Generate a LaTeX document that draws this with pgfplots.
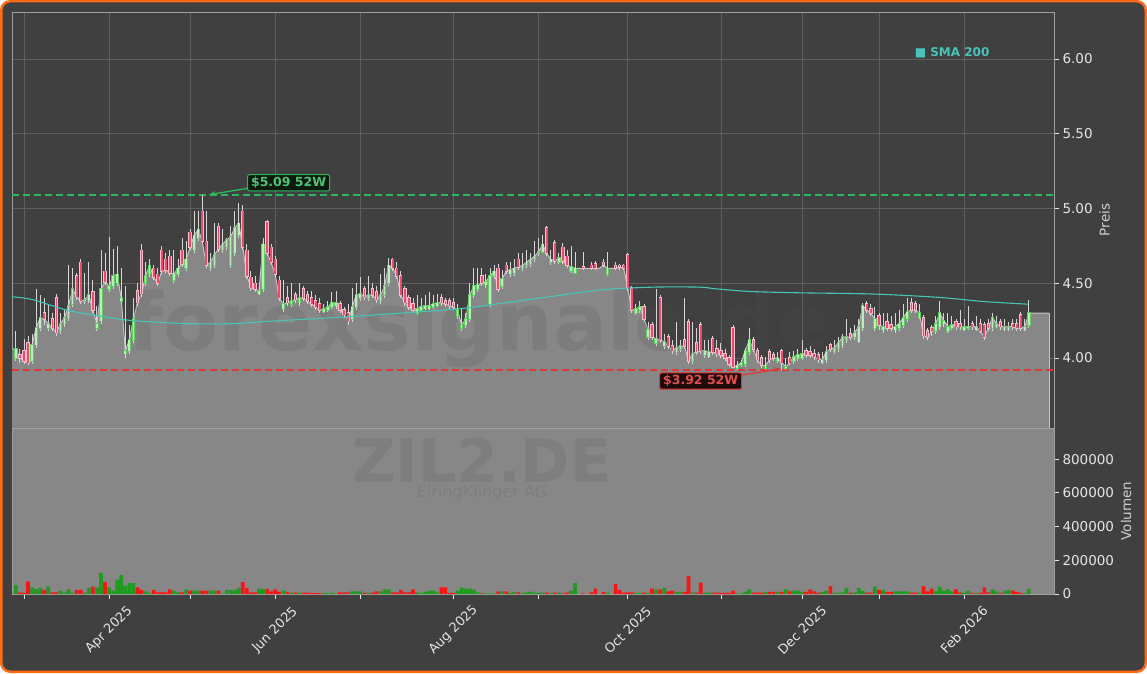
\documentclass[border=0pt]{standalone}
\usepackage{fontspec}
\setmainfont{DejaVu Sans}
\usepackage{pgfplots}
\pgfplotsset{compat=1.18}
\usepackage{pgfplotstable}
\usetikzlibrary{arrows.meta}

\definecolor{bg}{HTML}{404040}
\definecolor{frame}{HTML}{A0A0A0}
\definecolor{gridc}{HTML}{5E5E5E}
\definecolor{areac}{HTML}{878787}
\definecolor{arealine}{HTML}{C4C4C4}
\definecolor{tickt}{HTML}{E6E6E6}
\definecolor{labt}{HTML}{CFCFCF}
\definecolor{smac}{RGB}{72,196,186}
\definecolor{hi}{RGB}{46,184,92}
\definecolor{lo}{RGB}{222,58,58}
\definecolor{upedge}{RGB}{95,205,95}
\definecolor{upfill}{RGB}{185,238,185}
\definecolor{dnedge}{RGB}{250,190,205}
\definecolor{dnfill}{RGB}{235,75,110}
\definecolor{wick}{HTML}{D6D6D6}
\definecolor{volg}{RGB}{32,155,32}
\definecolor{volr}{RGB}{250,20,20}
\definecolor{wm}{RGB}{77,77,77}
\definecolor{border}{HTML}{FF6A14}

\newcommand{\tickfont}{\fontsize{13.5}{16}\selectfont}

% i = trading day (0 = 3 Mar 2025), o h l c, v = volume (0 = no trade)
\pgfplotstableread{
i o h l c v
-3 4.06 4.06 4.06 4.06 0
-2 4.00 4.18 3.98 4.06 53000
-1 4.02 4.06 3.97 4.00 8000
0 4.05 4.13 3.96 3.98 6000
1 4.10 4.15 3.95 3.97 75000
2 3.98 4.16 3.96 4.09 40000
3 4.09 4.46 4.07 4.20 30000
4 4.20 4.42 4.18 4.27 36000
5 4.30 4.40 4.22 4.26 24000
6 4.20 4.36 4.18 4.23 46000
7 4.26 4.30 4.18 4.20 10000
8 4.40 4.43 4.15 4.17 10000
9 4.18 4.30 4.16 4.23 20000
10 4.23 4.32 4.21 4.27 8000
11 4.27 4.62 4.25 4.35 28000
12 4.36 4.60 4.34 4.46 8000
13 4.55 4.57 4.39 4.41 24000
14 4.64 4.66 4.36 4.38 24000
15 4.38 4.57 4.36 4.39 8000
16 4.39 4.64 4.37 4.42 36000
17 4.44 4.52 4.30 4.32 44000
18 4.20 4.35 4.18 4.23 40000
19 4.25 4.72 4.23 4.46 126000
20 4.58 4.70 4.49 4.51 71000
21 4.46 4.81 4.44 4.48 40000
22 4.48 4.73 4.46 4.55 20000
23 4.50 4.75 4.48 4.56 85000
24 4.38 4.60 4.36 4.40 113000
25 4.03 4.48 4.00 4.05 50000
26 4.05 4.22 4.03 4.12 65000
27 4.12 4.40 4.10 4.26 65000
28 4.45 4.50 4.35 4.37 40000
29 4.72 4.76 4.41 4.43 24000
30 4.50 4.64 4.48 4.55 16000
31 4.56 4.66 4.54 4.62 6000
32 4.60 4.62 4.52 4.54 24000
33 4.56 4.60 4.48 4.50 10000
34 4.72 4.75 4.56 4.58 10000
35 4.66 4.70 4.57 4.59 10000
36 4.68 4.72 4.55 4.57 28000
37 4.52 4.72 4.50 4.56 20000
38 4.56 4.66 4.54 4.60 10000
39 4.72 4.80 4.61 4.63 10000
40 4.60 4.78 4.58 4.66 28000
41 4.84 4.86 4.72 4.74 20000
42 4.72 4.98 4.70 4.82 20000
43 4.80 4.98 4.78 4.86 20000
44 4.98 5.09 4.76 4.78 20000
45 4.78 4.98 4.60 4.62 20000
46 4.60 4.70 4.58 4.64 20000
47 4.62 4.90 4.60 4.69 20000
48 4.88 4.90 4.71 4.73 20000
49 4.72 4.86 4.70 4.76 4000
50 4.74 4.80 4.72 4.79 24000
51 4.62 4.88 4.60 4.81 24000
52 4.70 4.98 4.68 4.87 24000
53 4.82 5.04 4.80 4.90 36000
54 4.98 5.02 4.72 4.74 71000
55 4.72 4.76 4.53 4.55 36000
56 4.54 4.58 4.45 4.47 10000
57 4.50 4.55 4.44 4.46 10000
58 4.43 4.50 4.42 4.45 30000
59 4.46 4.80 4.44 4.76 30000
60 4.91 4.92 4.68 4.70 30000
61 4.74 4.76 4.62 4.64 16000
62 4.66 4.68 4.54 4.56 28000
63 4.52 4.55 4.38 4.40 12000
64 4.33 4.52 4.31 4.36 20000
65 4.40 4.48 4.35 4.37 12000
66 4.36 4.50 4.34 4.38 8000
67 4.42 4.44 4.37 4.39 8000
68 4.37 4.50 4.35 4.40 8000
69 4.46 4.48 4.38 4.40 8000
70 4.42 4.45 4.36 4.38 8000
71 4.40 4.45 4.34 4.36 5000
72 4.38 4.42 4.32 4.34 5000
73 4.36 4.40 4.30 4.32 5000
74 4.31 4.36 4.30 4.33 5000
75 4.32 4.38 4.31 4.34 5000
76 4.34 4.44 4.33 4.37 5000
77 4.35 4.45 4.33 4.37 3000
78 4.36 4.38 4.30 4.32 10000
79 4.32 4.34 4.27 4.29 10000
80 4.30 4.36 4.22 4.25 10000
81 4.26 4.47 4.24 4.34 16000
82 4.34 4.50 4.32 4.42 16000
83 4.40 4.54 4.38 4.43 16000
84 4.46 4.48 4.39 4.41 8000
85 4.40 4.55 4.38 4.42 8000
86 4.46 4.50 4.40 4.42 8000
87 4.44 4.48 4.37 4.39 16000
88 4.38 4.56 4.36 4.42 16000
89 4.42 4.60 4.40 4.48 28000
90 4.50 4.67 4.48 4.62 28000
91 4.66 4.67 4.58 4.60 10000
92 4.60 4.64 4.53 4.55 10000
93 4.55 4.58 4.40 4.42 24000
94 4.46 4.48 4.35 4.37 10000
95 4.40 4.42 4.32 4.34 10000
96 4.36 4.40 4.30 4.32 28000
97 4.30 4.42 4.29 4.33 10000
98 4.32 4.40 4.31 4.34 6000
99 4.33 4.42 4.32 4.35 14000
100 4.33 4.44 4.32 4.35 20000
101 4.34 4.42 4.33 4.36 20000
102 4.35 4.43 4.34 4.37 10000
103 4.40 4.43 4.35 4.37 40000
104 4.38 4.40 4.34 4.36 40000
105 4.38 4.40 4.33 4.35 6000
106 4.37 4.40 4.32 4.34 6000
107 4.28 4.36 4.26 4.32 20000
108 4.20 4.33 4.18 4.22 38000
109 4.22 4.30 4.20 4.26 32000
110 4.26 4.50 4.24 4.42 32000
111 4.42 4.60 4.40 4.48 26000
112 4.46 4.60 4.44 4.49 10000
113 4.55 4.60 4.48 4.50 4000
114 4.49 4.56 4.47 4.51 4000
115 4.36 4.60 4.34 4.55 4000
116 4.55 4.62 4.53 4.58 4000
117 4.60 4.63 4.44 4.46 16000
118 4.48 4.59 4.46 4.53 16000
119 4.62 4.64 4.56 4.58 16000
120 4.56 4.64 4.54 4.59 6000
121 4.57 4.66 4.55 4.60 12000
122 4.66 4.70 4.59 4.61 10000
123 4.60 4.70 4.58 4.62 6000
124 4.62 4.72 4.60 4.64 10000
125 4.63 4.70 4.61 4.66 14000
126 4.66 4.78 4.64 4.68 8000
127 4.70 4.80 4.68 4.71 8000
128 4.71 4.82 4.70 4.76 8000
129 4.87 4.88 4.68 4.70 8000
130 4.64 4.72 4.62 4.66 6000
131 4.77 4.79 4.63 4.65 8000
132 4.64 4.70 4.63 4.67 8000
133 4.74 4.77 4.63 4.65 4000
134 4.68 4.72 4.60 4.62 8000
135 4.58 4.75 4.57 4.61 20000
136 4.57 4.71 4.56 4.60 64000
137 4.60 4.60 4.60 4.60 0
138 4.61 4.71 4.59 4.60 4000
139 4.60 4.60 4.60 4.60 0
140 4.62 4.64 4.59 4.60 10000
141 4.63 4.65 4.59 4.60 32000
142 4.60 4.60 4.60 4.60 0
143 4.64 4.66 4.61 4.62 12000
144 4.56 4.71 4.55 4.60 8000
145 4.60 4.60 4.60 4.60 0
146 4.62 4.64 4.59 4.60 59000
147 4.62 4.63 4.59 4.61 24000
148 4.62 4.63 4.59 4.60 8000
149 4.69 4.70 4.45 4.47 10000
150 4.47 4.48 4.30 4.32 10000
151 4.30 4.36 4.29 4.33 6000
152 4.32 4.38 4.30 4.34 6000
153 4.34 4.36 4.24 4.26 8000
154 4.14 4.24 4.12 4.19 6000
155 4.22 4.24 4.12 4.14 32000
156 4.10 4.46 4.08 4.13 28000
157 4.40 4.42 4.10 4.12 28000
158 4.08 4.16 4.06 4.11 38000
159 4.14 4.16 4.06 4.08 16000
160 4.08 4.12 4.03 4.05 20000
161 4.04 4.24 4.02 4.07 12000
162 4.06 4.12 4.04 4.08 12000
163 4.12 4.40 4.06 4.08 12000
164 4.24 4.26 3.96 3.98 107000
165 3.98 4.24 3.96 4.03 10000
166 4.10 4.20 4.02 4.04 8000
167 4.22 4.24 4.03 4.05 67000
168 4.02 4.12 4.00 4.05 8000
169 4.01 4.12 4.00 4.04 8000
170 4.13 4.15 4.02 4.04 8000
171 4.06 4.12 4.01 4.03 8000
172 4.05 4.10 4.00 4.02 6000
173 4.03 4.06 3.98 4.00 6000
174 4.00 4.02 3.94 3.96 6000
175 4.20 4.22 3.93 3.94 20000
176 3.93 3.98 3.92 3.95 4000
177 3.95 3.99 3.94 3.97 4000
178 3.96 4.07 3.94 4.05 14000
179 4.04 4.20 4.02 4.12 28000
180 4.12 4.14 4.04 4.06 8000
181 4.05 4.07 3.97 3.99 8000
182 4.00 4.02 3.93 3.95 8000
183 3.93 4.01 3.92 3.95 12000
184 4.04 4.06 3.97 3.99 12000
185 4.02 4.04 3.98 4.00 12000
186 3.98 4.04 3.97 4.00 12000
187 4.05 4.06 3.92 3.97 12000
188 3.93 4.00 3.92 3.94 28000
189 4.00 4.04 3.95 3.97 16000
190 3.98 4.05 3.96 4.01 20000
191 4.00 4.06 3.98 4.02 20000
192 4.00 4.12 3.99 4.03 12000
193 4.05 4.07 4.00 4.02 12000
194 4.04 4.08 4.00 4.02 28000
195 4.03 4.06 3.99 4.01 16000
196 4.02 4.04 3.97 3.99 8000
197 3.97 4.04 3.96 3.99 12000
198 3.99 4.08 3.97 4.04 20000
199 4.09 4.10 4.04 4.06 47000
200 4.04 4.12 4.03 4.07 8000
201 4.06 4.14 4.04 4.10 8000
202 4.09 4.16 4.07 4.14 8000
203 4.12 4.26 4.10 4.14 36000
204 4.16 4.20 4.12 4.14 8000
205 4.14 4.22 4.12 4.17 10000
206 4.11 4.26 4.10 4.21 36000
207 4.20 4.37 4.18 4.35 20000
208 4.36 4.38 4.30 4.32 8000
209 4.33 4.36 4.28 4.30 8000
210 4.20 4.34 4.18 4.26 44000
211 4.28 4.30 4.19 4.22 24000
212 4.19 4.30 4.17 4.21 24000
213 4.24 4.30 4.18 4.20 12000
214 4.22 4.28 4.18 4.20 12000
215 4.19 4.30 4.17 4.21 16000
216 4.20 4.32 4.18 4.23 16000
217 4.22 4.36 4.20 4.27 16000
218 4.26 4.40 4.24 4.31 16000
219 4.37 4.40 4.30 4.32 8000
220 4.36 4.38 4.30 4.32 8000
221 4.27 4.36 4.26 4.30 8000
222 4.27 4.29 4.13 4.15 47000
223 4.18 4.20 4.12 4.14 16000
224 4.20 4.22 4.15 4.18 32000
225 4.18 4.28 4.16 4.23 16000
226 4.21 4.38 4.19 4.30 44000
227 4.23 4.30 4.21 4.25 20000
228 4.18 4.30 4.17 4.21 28000
229 4.20 4.28 4.19 4.22 16000
230 4.24 4.26 4.19 4.21 28000
231 4.23 4.32 4.19 4.21 8000
232 4.19 4.26 4.18 4.21 8000
233 4.20 4.35 4.19 4.21 20000
234 4.23 4.25 4.19 4.21 6000
235 4.19 4.28 4.18 4.21 6000
236 4.23 4.26 4.17 4.18 6000
237 4.22 4.24 4.12 4.14 40000
238 4.23 4.26 4.18 4.20 10000
239 4.20 4.30 4.18 4.27 28000
240 4.21 4.28 4.20 4.23 16000
241 4.24 4.26 4.19 4.21 6000
242 4.19 4.26 4.18 4.21 20000
243 4.19 4.24 4.18 4.21 24000
244 4.23 4.26 4.19 4.21 20000
245 4.23 4.26 4.18 4.20 12000
246 4.29 4.31 4.18 4.20 6000
247 4.19 4.26 4.18 4.21 6000
248 4.22 4.39 4.20 4.30 32000
249 4.30 4.30 4.30 4.30 0
250 4.30 4.30 4.30 4.30 0
251 4.30 4.30 4.30 4.30 0
252 4.30 4.30 4.30 4.30 0
253 4.30 4.30 4.30 4.30 0
}\price

\pgfplotsset{
  chart/.style={
    scale only axis, width=1042pt, anchor=south west,
    xmin=-2.96, xmax=254.2,
    axis line style={draw=frame, line width=0.9pt},
    xtick={21,62,106,149,192,232},
    minor xtick={0,41,83,127,172,211},
    tick align=outside, major tick length=5pt, minor tick length=5pt,
    tick style={draw=tickt, line width=0.8pt},
    ytick pos=right, yticklabel pos=right,
    tick label style={font=\tickfont, text=tickt},
    ylabel style={font=\tickfont, text=labt},
  },
  up/.style={restrict expr to domain={(\thisrow{v}>0)*((\thisrow{c}-\thisrow{o})>-0.0001)}{0.5:1.5}},
  down/.style={restrict expr to domain={(\thisrow{v}>0)*((\thisrow{o}-\thisrow{c})>0.0001)}{0.5:1.5}},
  candle/.style={draw=none, mark=none, forget plot},
}

\begin{document}
\begin{tikzpicture}
\useasboundingbox (0,0) rectangle (1147pt,673pt);
\draw[border, line width=2.5pt, fill=bg, rounded corners=9pt] (1.25pt,1.25pt) rectangle (1145.75pt,671.75pt);

% price panel
\begin{axis}[chart, at={(12pt,245pt)}, height=416pt,
  ymin=3.532, ymax=6.314, ytick={4,4.5,5,5.5,6},
  xticklabels={}, xtick style={draw=none}, minor x tick style={draw=none},
  grid=both, grid style={draw=gridc, line width=0.7pt}, minor grid style={draw=gridc, line width=0.7pt},
  yticklabel style={/pgf/number format/.cd, fixed, fixed zerofill, precision=2, assume math mode=true},
  ylabel={Preis}]
\addplot[fill=areac, draw=none, forget plot] table[x=i, y=c] {\price} \closedcycle;
\addplot[arealine, line width=1pt, mark=none, forget plot] table[x=i, y=c] {\price};
\addplot[arealine, line width=1pt, mark=none, forget plot] coordinates {(253,4.30) (253,3.4)};
\node[anchor=base, text=wm, text opacity=0.17, font=\bfseries\fontsize{80}{80}\selectfont]
  at (rel axis cs:0.449,0.1875) {forexsignale.de};
\addplot[hi, line width=1.3pt, mark=none, dash pattern=on 7pt off 4pt, forget plot] coordinates {(-3,5.09) (255,5.09)};
\addplot[lo, line width=1.3pt, mark=none, dash pattern=on 7pt off 4pt, forget plot] coordinates {(-3,3.92) (255,3.92)};
% wicks
\addplot[candle, restrict expr to domain={\thisrow{v}}{1:1e9},
  error bars/.cd, y dir=plus, y explicit, error mark=none,
  error bar style={draw=wick, line width=0.9pt}]
  table[x=i, y=l, y error plus expr={\thisrow{h}-\thisrow{l}}] {\price};
% bodies: edge pass, then fill pass
\addplot[candle, up, error bars/.cd, y dir=plus, y explicit, error mark=none,
  error bar style={draw=upedge, line width=3.3pt}]
  table[x=i, y expr={min(\thisrow{o},\thisrow{c})-0.005}, y error plus expr={abs(\thisrow{c}-\thisrow{o})+0.01}] {\price};
\addplot[candle, up, error bars/.cd, y dir=plus, y explicit, error mark=none,
  error bar style={draw=upfill, line width=1.7pt}]
  table[x=i, y expr={min(\thisrow{o},\thisrow{c})}, y error plus expr={abs(\thisrow{c}-\thisrow{o})}] {\price};
\addplot[candle, down, error bars/.cd, y dir=plus, y explicit, error mark=none,
  error bar style={draw=dnedge, line width=3.3pt}]
  table[x=i, y expr={min(\thisrow{o},\thisrow{c})-0.005}, y error plus expr={abs(\thisrow{c}-\thisrow{o})+0.01}] {\price};
\addplot[candle, down, error bars/.cd, y dir=plus, y explicit, error mark=none,
  error bar style={draw=dnfill, line width=1.7pt}]
  table[x=i, y expr={min(\thisrow{o},\thisrow{c})}, y error plus expr={abs(\thisrow{c}-\thisrow{o})}] {\price};
% SMA 200
\addplot[smac, line width=1.1pt, mark=none, smooth, forget plot] coordinates {
  (-3,4.41) (2.2,4.39) (10.6,4.32) (18.8,4.28) (26.9,4.25) (40.2,4.23) (51.6,4.23)
  (60,4.245) (76.3,4.27) (92.8,4.30) (107.6,4.33) (117.5,4.365) (129.8,4.41)
  (142.1,4.455) (149.5,4.468) (157,4.475) (166.8,4.474) (171,4.462) (179.2,4.445)
  (191.5,4.436) (209.5,4.428) (226.1,4.405) (236.7,4.378) (247.8,4.36)};
\node[anchor=west, text=smac, inner sep=0pt, font=\bfseries\fontsize{12}{14}\selectfont]
  at (axis cs:219.8,6.04) {{\mdseries ■} SMA 200};
% 52 week marks
\draw[-{Stealth[length=7pt,width=5pt]}, hi, line width=1.3pt] (axis cs:55.3,5.135) -- (axis cs:45.6,5.092);
\node[fill={rgb,255:red,10;green,26;blue,14}, draw=hi, line width=1pt, rounded corners=2pt,
  text=hi!85!white, inner xsep=3.5pt, inner ysep=2.5pt, font=\bfseries\fontsize{12.5}{14}\selectfont]
  at (axis cs:65.3,5.172) {\$5.09 52W};
\draw[-{Stealth[length=7pt,width=5pt]}, lo, line width=1.3pt] (axis cs:177.2,3.886) -- (axis cs:186.9,3.928);
\node[fill={rgb,255:red,30;green,10;blue,10}, draw=lo, line width=1pt, rounded corners=2pt,
  text=lo!90!white, inner xsep=3.5pt, inner ysep=2.5pt, font=\bfseries\fontsize{12.5}{14}\selectfont]
  at (axis cs:167,3.846) {\$3.92 52W};
\end{axis}

% volume panel
\begin{axis}[chart, at={(12pt,79pt)}, height=166pt,
  ymin=0, ymax=985000, ytick={0,200000,400000,600000,800000}, scaled y ticks=false,
  axis background/.style={fill=areac},
  xtick pos=left,
  xticklabels={Apr 2025,Jun 2025,Aug 2025,Oct 2025,Dec 2025,Feb 2026},
  xticklabel style={yshift=-31pt, rotate=45, anchor=center, font=\fontsize{13}{15}\selectfont},
  yticklabel style={/pgf/number format/.cd, fixed, 1000 sep={}, assume math mode=true},
  ylabel={Volumen}]
\addplot[ybar, bar width=0.9, bar shift=0pt, fill=volg, draw=none, up] table[x=i, y=v] {\price};
\addplot[ybar, bar width=0.9, bar shift=0pt, fill=volr, draw=none, down] table[x=i, y=v] {\price};
\end{axis}

\node[anchor=base, text=wm, text opacity=0.15, font=\bfseries\fontsize{60}{60}\selectfont] at (482pt,191pt) {ZIL2.DE};
\node[anchor=base, text=wm, text opacity=0.15, font=\fontsize{16}{18}\selectfont] at (482pt,176pt) {ElringKlinger AG};
\end{tikzpicture}
\end{document}
